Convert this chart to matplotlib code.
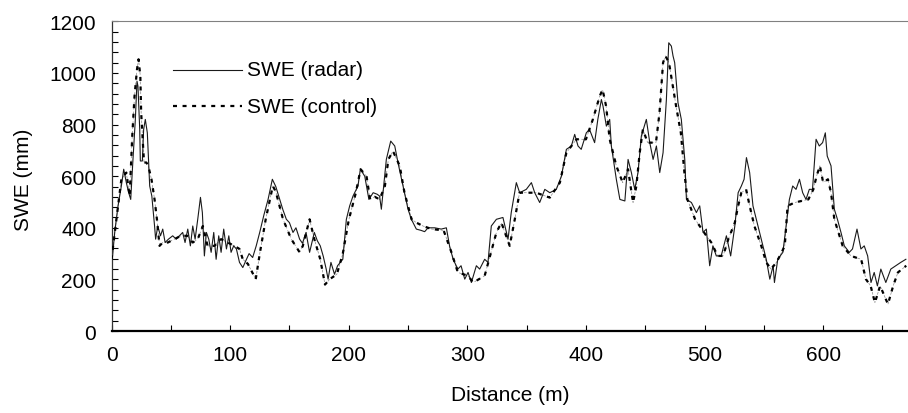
import matplotlib
matplotlib.use("Agg")
import matplotlib.pyplot as plt
from matplotlib.ticker import MultipleLocator

plt.rcParams["font.family"] = ["Liberation Sans", "DejaVu Sans"]

# Radar-derived snow water equivalent along the transect
radar_dist = [
    0, 2.7, 5.5, 8.3, 10.3, 12.5, 14.5, 16.2, 18.1, 20.1, 21.5, 22.3, 23.8, 24.3,
    26, 27.1, 28.5, 30.2, 31.3, 32.2, 34, 36.3, 37.2, 39, 41.3, 43.2, 45.2, 48,
    51.6, 54.5, 57.3, 60, 62, 64.3, 66.5, 68.5, 70.5, 72.7, 75, 76.6, 78.3, 80,
    82, 84, 86.2, 88.2, 90.4, 92.4, 94.6, 96.9, 98.9, 100.8, 103, 105.3, 107.9,
    110.7, 113, 116, 119, 122, 125, 128.5, 132, 135.6, 138.5, 141.8, 144.5,
    147.4, 150, 153, 155.5, 158.6, 161, 164, 167, 171, 173.5, 176, 178.5, 181,
    182.6, 185, 188, 190.6, 195, 198, 200.8, 203.6, 207.8, 209.8, 213.5, 217,
    220.6, 224, 226, 227.5, 231.7, 235.4, 238.8, 241.5, 245.8, 250, 252.8, 257,
    261, 264, 266.9, 272.5, 278, 282.3, 285, 288, 292, 294.7, 297.8, 300.6,
    303.4, 307.6, 310.4, 314.6, 317.4, 320.2, 324.5, 330, 334.3, 337, 341.3,
    344.1, 349.7, 354, 356.8, 361, 365.3, 369.5, 375, 379.3, 383.5, 387.7,
    390.5, 393.3, 396, 400.3, 403, 407.3, 410, 413, 414.4, 417.2, 420, 421.4,
    425.6, 428.6, 432.8, 435.5, 438.3, 441.1, 443.9, 446.7, 450.9, 453.8,
    456.6, 459.4, 462.2, 465, 467.8, 469.8, 472, 473.4, 474.8, 477.6, 480.4,
    483.3, 484.7, 488.9, 493.1, 495.9, 498.7, 501.5, 504.3, 507, 509.9, 514,
    518.4, 522, 525.5, 528.3, 531, 533.3, 535.3, 538, 540.8, 545, 549.2, 552,
    555, 557.8, 558.9, 561.7, 566, 568.7, 571.5, 574.3, 577.1, 580, 582.7,
    585.5, 588.3, 591, 594, 596.7, 599.5, 601.8, 603.4, 606.6, 609.4, 612, 615,
    617.8, 622, 624.7, 628.5, 631.8, 634.6, 637.5, 640.3, 643, 645.7, 648.6,
    652.8, 657, 661.2, 665.4, 669.7,
]
radar_swe = [
    246, 382, 485, 562, 627, 575, 536, 510, 665, 820, 968, 949, 781, 659,
    659, 781, 820, 768, 653, 562, 523, 407, 356, 407, 369, 395, 343, 356,
    369, 356, 369, 382, 343, 395, 330, 407, 356, 433, 518, 459, 291, 382,
    356, 305, 382, 278, 369, 305, 395, 318, 369, 305, 330, 318, 266,
    246, 270, 300, 285, 330, 383, 450, 510, 588, 560, 510, 470,
    433, 420, 382, 400, 356, 340, 382, 305, 382, 350, 330, 290, 240,
    201, 266, 220, 253, 278, 433, 485, 523, 562, 627, 600, 510,
    536, 530, 523, 472, 665, 736, 717, 653, 562, 472, 433, 395,
    390, 385, 400, 400, 395, 400, 330, 278, 240, 253, 201, 227,
    188, 253, 240, 278, 266, 407, 433, 440, 356, 459, 575,
    536, 549, 575, 536, 498, 549, 536, 549, 600, 704, 717,
    762, 717, 704, 768, 781, 730, 820, 897, 871, 794, 820, 717,
    588, 510, 504, 665, 614, 549, 614, 756, 820, 730,
    665, 717, 614, 691, 897, 1117, 1104, 1066, 1040, 884, 820,
    665, 510, 498, 459, 485, 382, 395, 253, 330, 291, 291,
    369, 291, 407, 536, 562, 588, 672, 614, 485, 407, 330, 278,
    201, 253, 188, 278, 305, 407, 510, 562, 549, 588, 536,
    510, 549, 549, 743, 717, 730, 768, 678, 640, 472, 433, 382,
    330, 305, 318, 395, 318, 330, 291, 188, 227, 175, 240,
    188, 240, 253, 266, 278,
]

# Control (probe) measurements along the same transect
control_dist = [
    0, 5.5, 8.3, 12.5, 15.3, 17.5, 19.4, 21.5, 22.8, 24.3, 25, 26, 27.4, 29.4,
    31, 33.7, 36.3, 38.3, 40.5, 43.2, 47.5, 53, 58.5, 64, 68.5, 72.7, 77, 81,
    86.8, 92.4, 98, 103.6, 107.9, 110.7, 115, 121.6, 125, 130, 136, 138.5,
    144.6, 151.6, 158.6, 161.3, 167, 171, 176, 180, 184, 190, 195, 200, 206,
    210, 215, 218, 222, 226, 230.5, 233.4, 237.3, 243, 247, 253, 257, 262.6,
    270, 280, 286.6, 292, 300.6, 305, 314.6, 320, 324.5, 328.7, 335.7, 340,
    344, 358, 369.5, 378, 383.5, 392, 400, 405.8, 411.6, 414, 417, 420, 425.6,
    431, 435.5, 439.7, 442.5, 445.3, 448, 452, 459, 462, 465, 467, 470, 476,
    480, 483, 485.5, 492, 501.5, 505.7, 511, 515.6, 520, 525.5, 528.3, 531,
    535, 538, 542, 547.8, 552, 556, 560.6, 565, 567.6, 570, 576, 587.5, 591.7,
    594.4, 597.2, 600, 604, 606.6, 609.4, 616.4, 623.4, 632, 636, 640, 643.6,
    648, 654.6, 659, 663, 670,
]
control_swe = [
    278, 485, 588, 614, 523, 756, 910, 1014, 1053, 988, 846, 768, 653, 653,
    640, 588, 510, 433, 330, 343, 343, 356, 369, 369, 343, 356, 407, 330,
    330, 356, 343, 330, 318, 278, 260, 201, 300, 433, 562, 540,
    433, 356, 305, 330, 433, 356, 278, 180, 201, 220, 300, 430, 536,
    627, 600, 510, 520, 510, 562, 665, 697, 640, 536, 433, 420, 407,
    395, 390, 305, 227, 214, 188, 214, 305, 382, 420, 330, 433,
    536, 536, 517, 575, 691, 743, 743, 820, 910, 936, 871, 743, 640,
    575, 627, 498, 562, 691, 781, 730, 730, 846, 1040, 1066, 1040, 871,
    768, 614, 510, 433, 369, 343, 291, 291, 356, 420, 485, 536,
    549, 485, 407, 330, 266, 240, 266, 305, 330, 485, 498, 510, 549,
    600, 640, 575, 588, 536, 433, 330, 291, 278, 201, 175, 110,
    175, 104, 175, 227, 253,
]

x_ticks = [0, 100, 200, 300, 400, 500, 600]
y_ticks = [0, 200, 400, 600, 800, 1000, 1200]
legend_labels = ["SWE (radar)", "SWE (control)"]

fig = plt.figure(figsize=(9.08, 4.14), dpi=100)
ax = fig.add_axes([0.1228, 0.198, 0.8772, 0.748])

# thin connector under the dotted control trace
ax.plot(control_dist, control_swe, color="#8a8a8a", lw=0.5, ls=(0, (4, 3)), zorder=1)
ax.plot(radar_dist, radar_swe, color="#1a1a1a", lw=0.8, zorder=2)
ctrl, = ax.plot(control_dist, control_swe, color="black", lw=1.6, zorder=3,
                solid_capstyle="butt", dash_capstyle="butt")
ctrl.set_dashes([1.8, 2.5])

ax.set_xlim(0, 671.5)
ax.set_ylim(0, 1200)
ax.set_xticks(x_ticks)
ax.set_yticks(y_ticks)
ax.xaxis.set_minor_locator(MultipleLocator(50))
ax.yaxis.set_minor_locator(MultipleLocator(40))
ax.tick_params(axis="both", which="both", direction="in", length=4.5,
               width=0.8, color="black", labelsize=15)
ax.tick_params(axis="y", which="major", pad=11)
ax.tick_params(axis="x", which="major", pad=10)

ax.spines["right"].set_visible(False)
ax.spines["top"].set_color("#808080")
ax.spines["top"].set_linewidth(0.8)
ax.spines["left"].set_color("#333333")
ax.spines["left"].set_linewidth(0.9)
ax.spines["bottom"].set_color("black")
ax.spines["bottom"].set_linewidth(1.6)

ax.set_xlabel("Distance (m)", fontsize=15)
ax.set_ylabel("SWE (mm)", fontsize=15)
ax.xaxis.set_label_coords(0.5, -0.175)
ax.yaxis.set_label_coords(-0.099, 0.49)

# legend drawn in axes coordinates
ax.plot([0.0772, 0.1638], [0.843, 0.843], transform=ax.transAxes,
        color="#1a1a1a", lw=0.8)
lg, = ax.plot([0.0772, 0.1638], [0.7265, 0.7265], transform=ax.transAxes,
              color="black", lw=1.6, dash_capstyle="butt")
lg.set_dashes([1.8, 2.5])
ax.text(0.170, 0.843, legend_labels[0], transform=ax.transAxes,
        fontsize=15, va="center", ha="left")
ax.text(0.170, 0.7265, legend_labels[1], transform=ax.transAxes,
        fontsize=15, va="center", ha="left")

fig.savefig("out.png", dpi=100)
